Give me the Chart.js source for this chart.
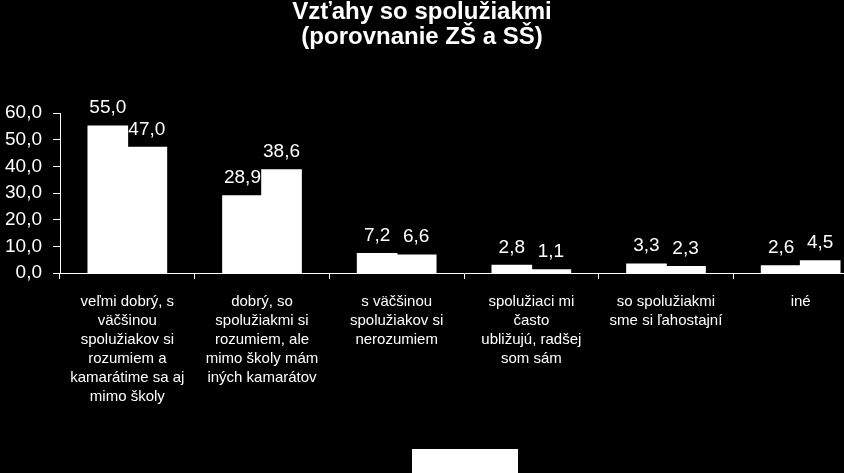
<!DOCTYPE html>
<html>
<head>
<meta charset="utf-8">
<script src="https://cdn.jsdelivr.net/npm/chart.js@4"></script>
<style>
  html, body { margin: 0; padding: 0; background: #000; overflow: hidden; }
  #wrap { position: absolute; left: -24px; top: 0; width: 892px; height: 473px; }
</style>
</head>
<body>
<div id="wrap"><canvas id="chart"></canvas></div>
<script>
// chart data
const categories = [
  ['veľmi dobrý, s', 'väčšinou', 'spolužiakov si', 'rozumiem a', 'kamarátime sa aj', 'mimo školy'],
  ['dobrý, so', 'spolužiakmi si', 'rozumiem, ale', 'mimo školy mám', 'iných kamarátov'],
  ['s väčšinou', 'spolužiakov si', 'nerozumiem'],
  ['spolužiaci mi', 'často', 'ubližujú, radšej', 'som sám'],
  ['so spolužiakmi', 'sme si ľahostajní'],
  ['iné']
];
const seriesNames = ['ZŠ', 'SŠ'];
const zsValues = [55.0, 28.9, 7.2, 2.8, 3.3, 2.6];
const ssValues = [47.0, 38.6, 6.6, 1.1, 2.3, 4.5];
const yMin = 0;
const yMax = 60;
const yStep = 10;

const fontFamily = 'Arial, "Liberation Sans", sans-serif';

function fmt(v) {
  return v.toFixed(1).replace('.', ',');
}

// value labels above each bar
const barLabels = {
  id: 'barLabels',
  afterDatasetsDraw(chart) {
    const ctx = chart.ctx;
    ctx.save();
    ctx.fillStyle = '#fff';
    ctx.font = '19px ' + fontFamily;
    ctx.textAlign = 'center';
    ctx.textBaseline = 'alphabetic';
    chart.data.datasets.forEach(function (ds, i) {
      chart.getDatasetMeta(i).data.forEach(function (bar, j) {
        ctx.fillText(fmt(ds.data[j]), bar.x, bar.y - 13);
      });
    });
    ctx.restore();
  }
};

// white legend block at the bottom
const legendBlock = {
  id: 'legendBlock',
  afterDraw(chart) {
    const ctx = chart.ctx;
    ctx.save();
    ctx.fillStyle = '#fff';
    ctx.fillRect(436, 449, 106, 30);
    ctx.restore();
  }
};

new Chart(document.getElementById('chart'), {
  type: 'bar',
  data: {
    labels: categories,
    datasets: [
      { label: seriesNames[0], data: zsValues, backgroundColor: '#fff', borderWidth: 0 },
      { label: seriesNames[1], data: ssValues, backgroundColor: '#fff', borderWidth: 0 }
    ]
  },
  options: {
    responsive: true,
    maintainAspectRatio: false,
    animation: false,
    layout: { padding: { left: 0, right: 0, top: 0, bottom: 0 } },
    datasets: {
      bar: { barPercentage: 1, categoryPercentage: 0.58, inflateAmount: 0.8 }
    },
    plugins: {
      legend: { display: false },
      tooltip: { enabled: false },
      title: {
        display: true,
        text: ['Vzťahy so spolužiakmi', '(porovnanie ZŠ a SŠ)'],
        color: '#fff',
        font: { family: fontFamily, size: 24, weight: 'bold', lineHeight: '25px' },
        padding: { top: 0, bottom: 63 }
      }
    },
    scales: {
      x: {
        offset: true,
        grid: {
          display: true,
          drawOnChartArea: false,
          offset: true,
          color: '#fff',
          tickLength: 6,
          tickColor: '#fff'
        },
        border: { display: true, color: '#fff', width: 1 },
        ticks: {
          color: '#fff',
          maxRotation: 0,
          autoSkip: false,
          padding: 13,
          font: { family: fontFamily, size: 15, lineHeight: '19px' }
        },
        afterFit: function (scale) { scale.height = 200; }
      },
      y: {
        min: yMin,
        max: yMax,
        grid: {
          display: true,
          drawOnChartArea: false,
          color: '#fff',
          tickLength: 7,
          tickColor: '#fff'
        },
        border: { display: true, color: '#fff', width: 1 },
        ticks: {
          stepSize: yStep,
          color: '#fff',
          padding: 11,
          font: { family: fontFamily, size: 19 },
          callback: function (v) { return fmt(v); }
        },
        afterFit: function (scale) { scale.width = 84; }
      }
    }
  },
  plugins: [barLabels, legendBlock]
});
</script>
</body>
</html>
